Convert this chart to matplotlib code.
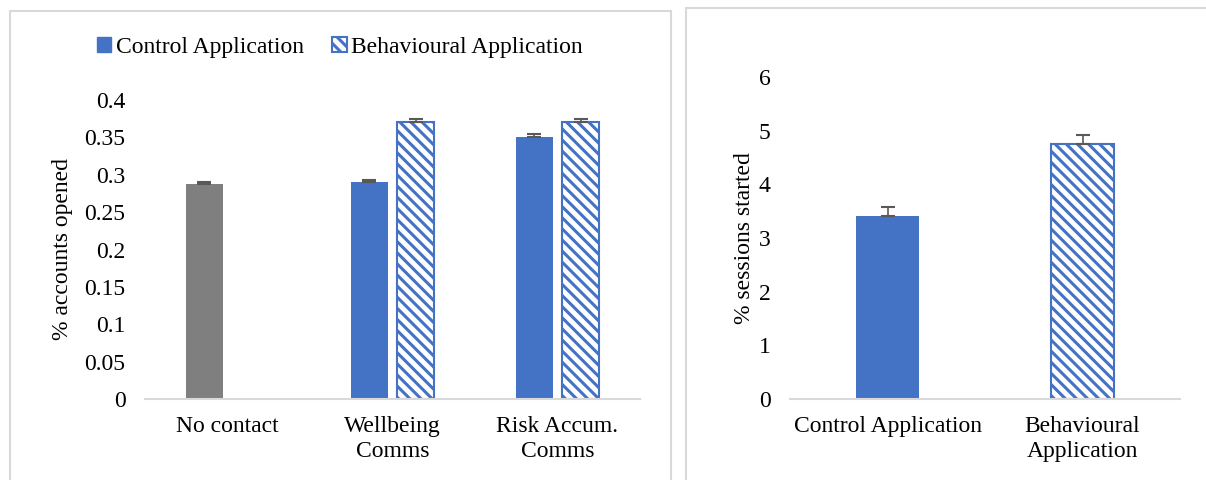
import matplotlib.pyplot as plt
from matplotlib.patches import Rectangle, Patch
import numpy as np

plt.rcParams['font.family'] = ['Liberation Serif', 'DejaVu Serif']
plt.rcParams['hatch.linewidth'] = 2.2

# left chart: % accounts opened
groups = ['No contact', 'Wellbeing\nComms', 'Risk Accum.\nComms']
control_vals = [0.287, 0.290, 0.351]
control_err = [0.003, 0.003, 0.003]
behav_vals = [np.nan, 0.371, 0.371]
behav_err = [0.0, 0.003, 0.003]
left_ticks = [0, 0.05, 0.1, 0.15, 0.2, 0.25, 0.3, 0.35, 0.4]
left_ticklabels = ['0', '0.05', '0.1', '0.15', '0.2', '0.25', '0.3', '0.35', '0.4']

# right chart: % sessions started
apps = ['Control Application', 'Behavioural\nApplication']
sessions = [3.41, 4.75]
sessions_err = [0.17, 0.17]
right_ticks = [0, 1, 2, 3, 4, 5, 6]

blue = '#4472C4'
grey = '#7F7F7F'
errc = '#595959'
spine = '#D9D9D9'
fs = 17

fig = plt.figure(figsize=(12.06, 4.8), dpi=100)

# panel frames
W, H = 1206, 480
fig.patches.append(Rectangle((10 / W, -0.1), 661 / W, 1.1 - 11 / H, transform=fig.transFigure,
                             fill=False, edgecolor=spine, linewidth=1.5))
fig.patches.append(Rectangle((686 / W, -0.1), 0.5, 1.1 - 8 / H, transform=fig.transFigure,
                             fill=False, edgecolor=spine, linewidth=1.5))

ax1 = fig.add_axes([145 / W, 81 / H, 495 / W, 299 / H])
x = np.arange(len(groups))
bw = 0.22
off = 0.14
ctrl_colors = [grey, blue, blue]
ax1.bar(x - off, control_vals, bw, color=ctrl_colors, zorder=2)
ax1.errorbar(x - off, control_vals, yerr=[[0] * 3, control_err], fmt='none',
             ecolor=errc, capsize=5, elinewidth=1.2, capthick=1.5, zorder=3)
bx = x[1:] + off
ax1.bar(bx, behav_vals[1:], bw, color='white', edgecolor=blue, hatch='\\\\\\',
        linewidth=1.5, zorder=2)
ax1.errorbar(bx, behav_vals[1:], yerr=[[0, 0], behav_err[1:]], fmt='none',
             ecolor=errc, capsize=5, elinewidth=1.2, capthick=1.5, zorder=3)
ax1.set_xlim(-0.5, 2.5)
ax1.set_ylim(0, 0.4)
ax1.set_yticks(left_ticks)
ax1.set_yticklabels(left_ticklabels)
ax1.set_xticks(x)
ax1.set_xticklabels(groups, linespacing=1.3)
ax1.set_ylabel('% accounts opened', fontsize=fs, labelpad=8)

ax2 = fig.add_axes([790 / W, 81 / H, 390 / W, 322 / H])
x2 = np.arange(len(apps))
bw2 = 0.32
ax2.bar(x2[0], sessions[0], bw2, color=blue, zorder=2)
ax2.bar(x2[1], sessions[1], bw2, color='white', edgecolor=blue, hatch='\\\\\\',
        linewidth=1.5, zorder=2)
ax2.errorbar(x2, sessions, yerr=[[0, 0], sessions_err], fmt='none',
             ecolor=errc, capsize=5, elinewidth=1.2, capthick=1.5, zorder=3)
ax2.set_xlim(-0.5, 1.5)
ax2.set_ylim(0, 6)
ax2.set_yticks(right_ticks)
ax2.set_xticks(x2)
ax2.set_xticklabels(apps, linespacing=1.3)
ax2.set_ylabel('% sessions started', fontsize=fs, labelpad=3)

for ax in (ax1, ax2):
    for s in ('top', 'right', 'left'):
        ax.spines[s].set_visible(False)
    ax.spines['bottom'].set_color(spine)
    ax.spines['bottom'].set_linewidth(1.5)
    ax.tick_params(axis='both', length=0, labelsize=fs)
    ax.tick_params(axis='y', pad=14)
    ax.tick_params(axis='x', pad=12)

handles = [Patch(facecolor=blue, edgecolor=blue),
           Patch(facecolor='white', edgecolor=blue, hatch='\\\\\\', linewidth=1.5)]
fig.legend(handles, ['Control Application', 'Behavioural Application'],
           loc='center', bbox_to_anchor=(340 / W, 1 - 47 / H), ncol=2, frameon=False,
           fontsize=fs, handlelength=0.6, handleheight=0.6, handletextpad=0.2,
           columnspacing=1.2)

fig.savefig('out.png', dpi=100)
